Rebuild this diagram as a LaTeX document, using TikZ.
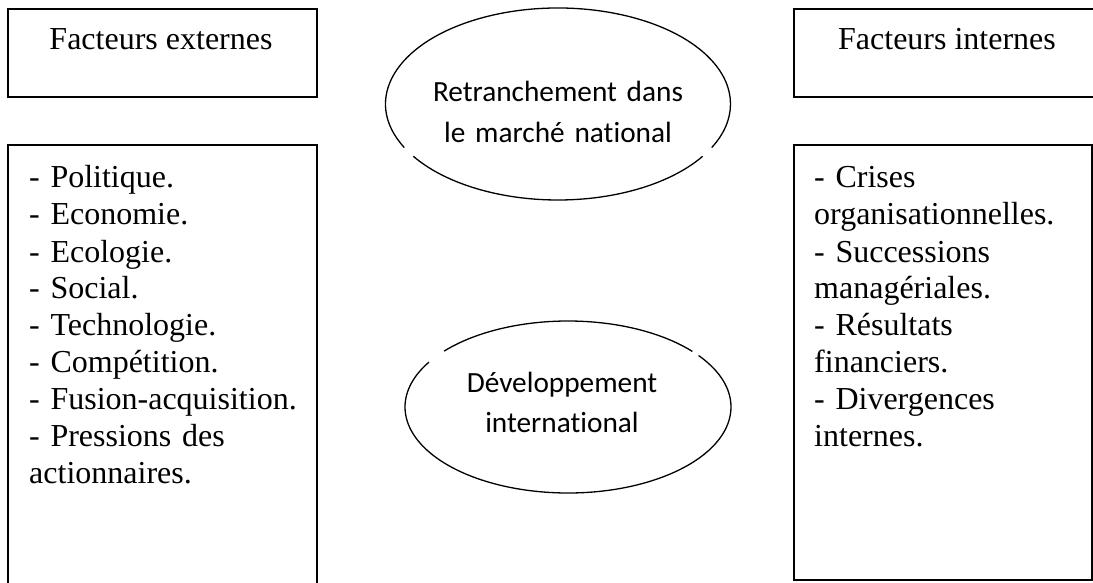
\documentclass[tikz,border=0pt]{standalone}
\usepackage{fontspec}
\setmainfont{Liberation Serif}
\newfontfamily\calib[Ligatures=NoCommon]{Carlito}
\begin{document}
\begin{tikzpicture}[x=1pt,y=-1pt,
  box/.style={draw,line width=1.6pt,inner sep=0pt},
  serif/.style={font=\fontsize{32}{37}\selectfont,inner sep=0pt},
  calibri/.style={font=\calib\fontsize{29.3}{40.5}\selectfont,inner sep=0pt},
  oval/.style={line width=1.3pt}]
\useasboundingbox (0,0) rectangle (1093,583);
\clip (0,0) rectangle (1093,583);
% boxes
\node[box,minimum width=309pt,minimum height=88pt] (extbox) at (162.5,53) {};
\node[box,minimum width=306pt,minimum height=88pt] (intbox) at (947,53) {};
\node[box,minimum width=309pt,minimum height=450pt] (extlist) at (162.5,370) {};
\node[box,minimum width=298pt,minimum height=435pt] (intlist) at (943,362.5) {};
% titles
\node[serif,anchor=base] (exttitle) at (161,50) {Facteurs externes};
\node[serif,anchor=base] (inttitle) at (947,50) {Facteurs internes};
% lists
\node[serif,anchor=base west,text width=285pt,align=left] (extitems) at (29,188)
  {- Politique.\\- Economie.\\- Ecologie.\\- Social.\\- Technologie.\\- Compétition.\\- Fusion-acquisition.\\- Pressions des\\actionnaires.};
\node[serif,anchor=base west,text width=275pt,align=left] (intitems) at (814,188)
  {- Crises\\organisationnelles.\\- Successions\\managériales.\\- Résultats\\financiers.\\- Divergences\\internes.};
% ellipses
\coordinate (o1) at (558,104);
\coordinate (o2) at (568,407);
\draw[oval] ([shift={(33:172.5 and 96)}]o1) arc[start angle=33,end angle=147,x radius=172.5,y radius=96];
\draw[oval] ([shift={(153:172.5 and 96)}]o1) arc[start angle=153,end angle=387,x radius=172.5,y radius=96];
\draw[oval] ([shift={(220.5:163 and 86)}]o2) arc[start angle=220.5,end angle=319.75,x radius=163,y radius=86];
\draw[oval] ([shift={(323.25:163 and 86)}]o2) arc[start angle=323.25,end angle=571.5,x radius=163,y radius=86];
\node[calibri,anchor=base,text width=300pt,align=center] (retr) at (558,102) {Retranchement dans\\le marché national};
\node[calibri,anchor=base,text width=300pt,align=center] (dev) at (562,392) {Développement\\international};
\end{tikzpicture}
\end{document}
